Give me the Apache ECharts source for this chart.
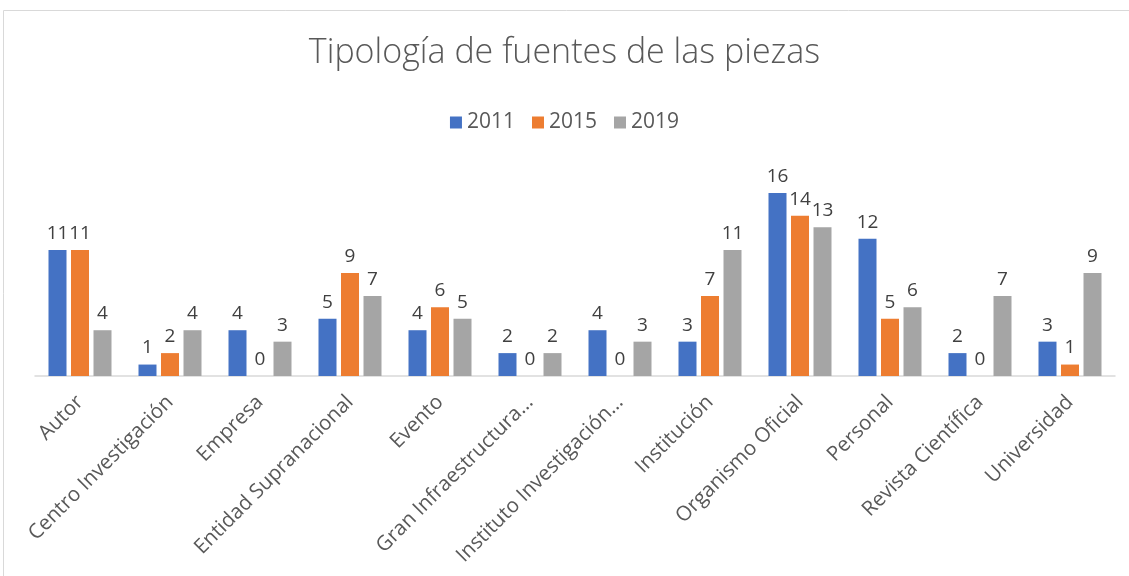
<!DOCTYPE html>
<html>
<head>
<meta charset="utf-8">
<script src="https://cdn.jsdelivr.net/npm/echarts@6/dist/echarts.min.js"></script>
<style>html,body{margin:0;padding:0;background:#fff;}#c{width:1129px;height:576px;}</style>
</head>
<body>
<div id="c"></div>
<script>
const categories = ['Autor','Centro Investigación','Empresa','Entidad Supranacional','Evento','Gran Infraestructura…','Instituto Investigación…','Institución','Organismo Oficial','Personal','Revista Científica','Universidad'];
const seriesNames = ['2011','2015','2019'];
const values2011 = [11,1,4,5,4,2,4,3,16,12,2,3];
const values2015 = [11,2,0,9,6,0,0,7,14,5,0,1];
const values2019 = [4,4,3,7,5,2,3,11,13,6,7,9];
const colors = ['#4472C4','#ED7D31','#A5A5A5'];

const chart = echarts.init(document.getElementById('c'));
const mk = (name, data, color) => ({
  name, type: 'bar', data, barWidth: 18, barGap: '25%',
  itemStyle: { color },
  label: { show: true, position: 'top', distance: 7, color: '#404040', fontSize: 19, fontFamily: 'Open Sans' }
});
chart.setOption({
  animation: false,
  graphic: [{ type: 'rect', shape: { x: 3.5, y: 10.5, width: 1140, height: 600 }, style: { fill: 'none', stroke: '#d9d9d9', lineWidth: 1 } }],
  title: { text: 'Tipología de fuentes de las piezas', left: 'center', top: 31,
    textStyle: { fontFamily: 'Open Sans', fontWeight: 300, fontSize: 34, color: '#595959' } },
  legend: { top: 107, left: 'center', itemWidth: 12, itemHeight: 12, itemGap: 17,
    textStyle: { fontFamily: 'Open Sans', fontSize: 21, color: '#595959' }, icon: 'rect' },
  grid: { left: 35, right: 14, bottom: 200, top: 170 },
  xAxis: { type: 'category', data: categories,
    axisLine: { lineStyle: { color: '#d9d9d9', width: 1.5 } }, axisTick: { show: false },
    axisLabel: { rotate: 45, interval: 0, margin: 23, color: '#595959', fontSize: 20.5, fontFamily: 'Open Sans' } },
  yAxis: { type: 'value', min: 0, max: 18, show: false, splitLine: { show: false } },
  series: [mk(seriesNames[0], values2011, colors[0]), mk(seriesNames[1], values2015, colors[1]), mk(seriesNames[2], values2019, colors[2])]
});
</script>
</body>
</html>
